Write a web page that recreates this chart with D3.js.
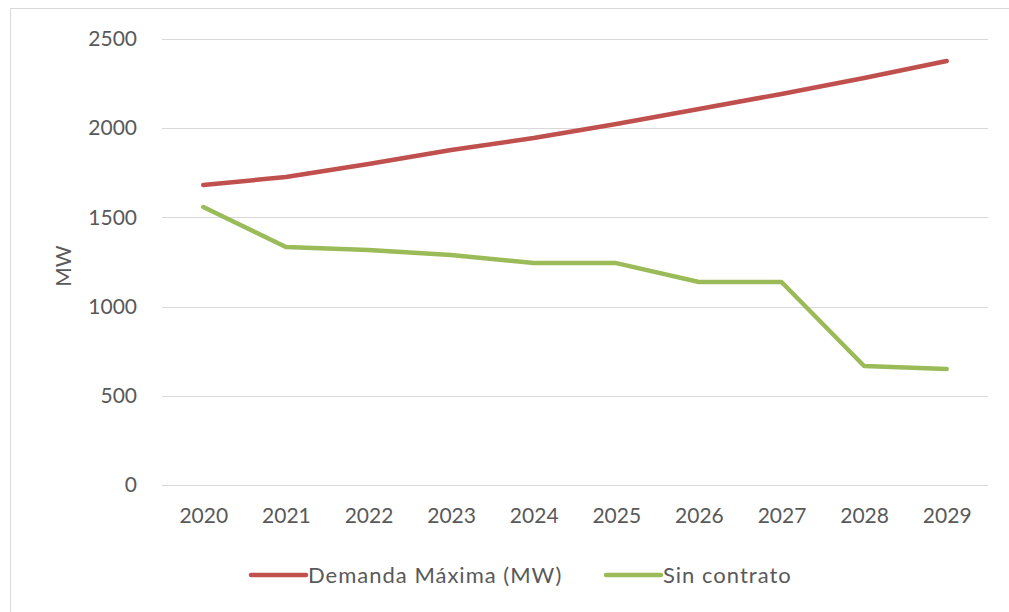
<!DOCTYPE html>
<html lang="es">
  <head>
    <meta charset="UTF-8" />
    <title>Demanda Máxima vs Sin contrato</title>
    <script src="https://d3js.org/d3.v7.min.js"></script>
    <style>
      body {
        margin: 0;
        padding: 0;
        background: #fff;
      }
      svg {
        display: block;
        font-family: Lato, "Open Sans", sans-serif;
      }
    </style>
  </head>
  <body>
    <svg width="1009" height="612"></svg>
    <script>
      const years = ["2020", "2021", "2022", "2023", "2024", "2025", "2026", "2027", "2028", "2029"];
      const demandaMaxima = [1682, 1726, 1799, 1878, 1945, 2024, 2108, 2192, 2281, 2377];
      const sinContrato = [1558, 1334, 1317, 1289, 1244, 1244, 1138, 1138, 667, 650];
      const yTicks = [0, 500, 1000, 1500, 2000, 2500];

      const series = [
        { name: "Demanda Máxima (MW)", values: demandaMaxima, color: "#c0504d" },
        { name: "Sin contrato", values: sinContrato, color: "#9bbb59" },
      ];

      const svg = d3.select("svg");
      const margin = { left: 162, right: 1009 - 988, top: 39, bottom: 612 - 485 };
      const width = 1009;
      const height = 612;

      // chart frame
      svg
        .append("rect")
        .attr("x", 10.5)
        .attr("y", 8.5)
        .attr("width", 1020)
        .attr("height", 620)
        .attr("fill", "none")
        .attr("stroke", "#d9d9d9");

      const x = d3
        .scalePoint()
        .domain(years)
        .range([margin.left, width - margin.right])
        .padding(0.5);

      const y = d3
        .scaleLinear()
        .domain([0, 2500])
        .range([height - margin.bottom, margin.top]);

      // gridlines
      svg
        .append("g")
        .selectAll("line")
        .data(yTicks)
        .join("line")
        .attr("x1", margin.left)
        .attr("x2", width - margin.right)
        .attr("y1", (d) => Math.round(y(d)) + 0.5)
        .attr("y2", (d) => Math.round(y(d)) + 0.5)
        .attr("stroke", "#d9d9d9")
        .attr("stroke-width", 1);

      // y axis labels
      const yAxis = svg
        .append("g")
        .attr("transform", `translate(${margin.left - 25},0)`)
        .call(d3.axisLeft(y).tickValues(yTicks).tickFormat(d3.format("d")).tickSize(0).tickPadding(0));
      yAxis.select(".domain").remove();
      yAxis
        .selectAll("text")
        .attr("font-family", "Lato, sans-serif")
        .attr("font-size", 21)
        .attr("fill", "#595959");

      // x axis labels
      const xAxis = svg
        .append("g")
        .attr("transform", `translate(0,${height - margin.bottom + 23})`)
        .call(d3.axisBottom(x).tickSize(0).tickPadding(0));
      xAxis.select(".domain").remove();
      xAxis
        .selectAll("text")
        .attr("font-family", "Lato, sans-serif")
        .attr("font-size", 21)
        .attr("fill", "#595959");

      // y axis title
      svg
        .append("text")
        .attr("transform", `translate(71,266) rotate(-90)`)
        .attr("text-anchor", "middle")
        .attr("font-size", 21)
        .attr("fill", "#595959")
        .text("MW");

      const line = d3
        .line()
        .x((d, i) => x(years[i]))
        .y((d) => y(d));

      svg
        .append("g")
        .selectAll("path")
        .data(series)
        .join("path")
        .attr("d", (d) => line(d.values))
        .attr("fill", "none")
        .attr("stroke", (d) => d.color)
        .attr("stroke-width", 4.5)
        .attr("stroke-linecap", "round")
        .attr("stroke-linejoin", "round");

      // legend
      const legendX = [249, 604];
      const legend = svg
        .append("g")
        .selectAll("g")
        .data(series)
        .join("g")
        .attr("transform", (d, i) => `translate(${legendX[i]},575)`);
      legend
        .append("line")
        .attr("x1", 2)
        .attr("x2", 57)
        .attr("stroke", (d) => d.color)
        .attr("stroke-width", 4.5)
        .attr("stroke-linecap", "round");
      legend
        .append("text")
        .attr("x", 59)
        .attr("dy", "0.35em")
        .attr("font-size", 22)
        .attr("letter-spacing", 1)
        .attr("fill", "#595959")
        .text((d) => d.name);
    </script>
  </body>
</html>
